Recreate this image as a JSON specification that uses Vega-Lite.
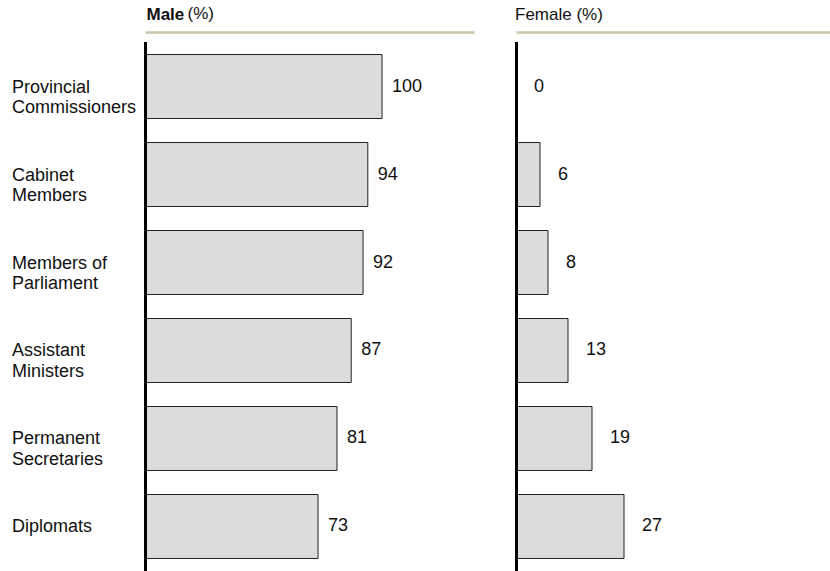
{
  "$schema": "https://vega.github.io/schema/vega-lite/v6.json",
  "padding": {"left": 11, "top": 4.5, "right": 0, "bottom": 0},
  "background": "white",
  "bounds": "flush",
  "spacing": 42,
  "data": {
    "values": [
      {"category": "Provincial Commissioners", "male": 100, "female": 0},
      {"category": "Cabinet Members", "male": 94, "female": 6},
      {"category": "Members of Parliament", "male": 92, "female": 8},
      {"category": "Assistant Ministers", "male": 87, "female": 13},
      {"category": "Permanent Secretaries", "male": 81, "female": 19},
      {"category": "Diplomats", "male": 73, "female": 27}
    ]
  },
  "config": {
    "font": "Liberation Sans",
    "view": {"stroke": null},
    "axis": {"grid": false}
  },
  "hconcat": [
    {
      "width": 329,
      "height": 530,
      "title": {
        "text": "(%)",
        "anchor": "start",
        "frame": "group",
        "fontSize": 17,
        "fontWeight": "normal",
        "font": "Liberation Sans",
        "color": "#111111",
        "dx": 42.5,
        "dy": 30.6,
        "offset": 0,
        "baseline": "alphabetic"
      },
      "encoding": {
        "y": {
          "field": "category",
          "type": "nominal",
          "sort": null,
          "scale": {"paddingInner": 0.273, "paddingOuter": 0.148},
          "axis": {
            "title": null,
            "zindex": 1,
            "domainColor": "#000000",
            "domainWidth": 3,
            "ticks": false,
            "tickSize": 0,
            "labelAlign": "left",
            "labelBaseline": "middle",
            "labelPadding": 133.5,
            "labelFontSize": 18,
            "labelColor": "#111111",
            "labelLineHeight": 20.5,
            "labelOffset": 1,
            "labelLimit": 200,
            "labelExpr": "lastindexof(datum.value, ' ') < 0 ? datum.value : [slice(datum.value, 0, lastindexof(datum.value, ' ')), slice(datum.value, lastindexof(datum.value, ' ') + 1)]"
          }
        }
      },
      "layer": [
        {
          "mark": {"type": "bar", "fill": "#dcdcdc", "stroke": "#222222", "strokeWidth": 1},
          "encoding": {
            "x": {
              "field": "male",
              "type": "quantitative",
              "scale": {"domain": [0, 138.8], "nice": false},
              "axis": {
                "orient": "top",
                "offset": 9.5,
                "domainColor": "#c9c4aa",
                "domainWidth": 2.5,
                "ticks": false,
                "labels": false,
                "grid": false,
                "title": "Male",
                "titleFontWeight": "bold",
                "titleFontSize": 17,
                "titleColor": "#111111",
                "titleAlign": "left",
                "titleAnchor": "start",
                "titleBaseline": "alphabetic",
                "titleX": 1,
                "titleY": -13
              }
            }
          }
        },
        {
          "mark": {"type": "text", "align": "left", "baseline": "middle", "dx": 10, "fontSize": 18, "color": "#111111"},
          "encoding": {
            "x": {"field": "male", "type": "quantitative"},
            "text": {"field": "male", "type": "quantitative"}
          }
        }
      ]
    },
    {
      "width": 316,
      "height": 530,
      "encoding": {
        "y": {
          "field": "category",
          "type": "nominal",
          "sort": null,
          "scale": {"paddingInner": 0.273, "paddingOuter": 0.148},
          "axis": {
            "title": null,
            "zindex": 1,
            "domainColor": "#000000",
            "domainWidth": 3,
            "ticks": false,
            "tickSize": 0,
            "labels": false
          }
        }
      },
      "layer": [
        {
          "mark": {"type": "bar", "fill": "#dcdcdc", "stroke": "#222222", "strokeWidth": 1},
          "encoding": {
            "x": {
              "field": "female",
              "type": "quantitative",
              "scale": {"domain": [0, 79], "nice": false},
              "axis": {
                "orient": "top",
                "offset": 9.5,
                "domainColor": "#c9c4aa",
                "domainWidth": 2.5,
                "ticks": false,
                "labels": false,
                "grid": false,
                "title": "Female (%)",
                "titleFontWeight": "normal",
                "titleFontSize": 17,
                "titleColor": "#111111",
                "titleAlign": "left",
                "titleAnchor": "start",
                "titleBaseline": "alphabetic",
                "titleX": -1.5,
                "titleY": -13
              }
            }
          }
        },
        {
          "mark": {"type": "text", "align": "left", "baseline": "middle", "dx": 18, "fontSize": 18, "color": "#111111"},
          "encoding": {
            "x": {"field": "female", "type": "quantitative"},
            "text": {"field": "female", "type": "quantitative"}
          }
        }
      ]
    }
  ]
}
